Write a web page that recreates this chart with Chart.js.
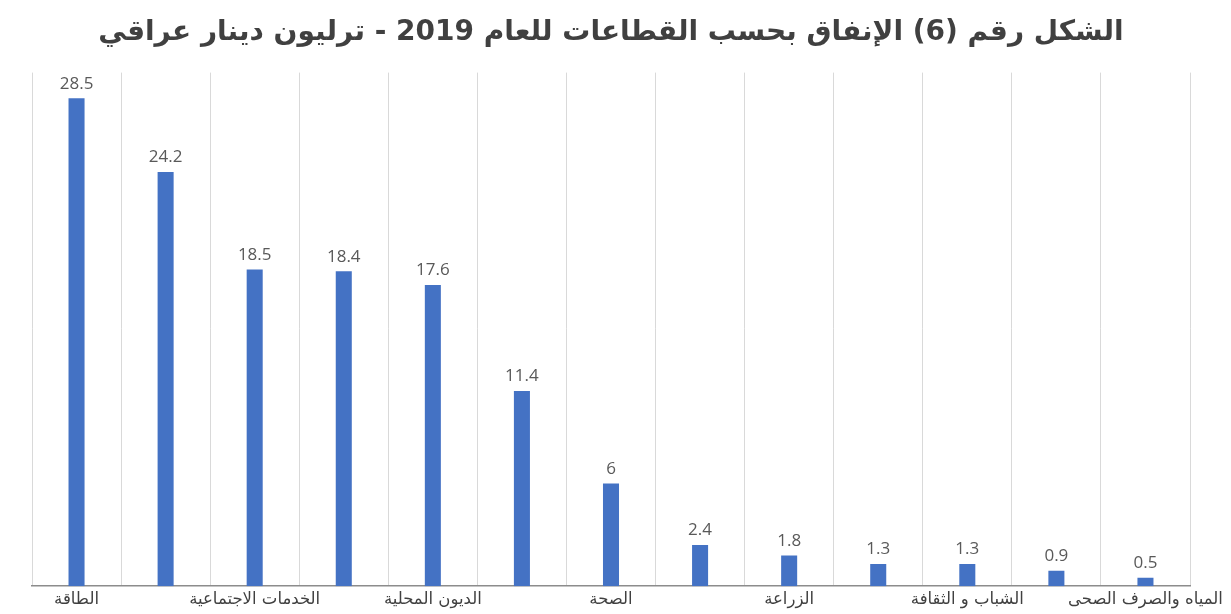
<!DOCTYPE html>
<html>
<head>
<meta charset="utf-8">
<script src="https://cdn.jsdelivr.net/npm/chart.js@4/dist/chart.umd.min.js"></script>
<style>
  html, body { margin: 0; padding: 0; background: #ffffff; }
  #wrap { width: 1231px; height: 614px; }
</style>
</head>
<body>
<div id="wrap"><canvas id="c" width="1231" height="614"></canvas></div>
<script>
const titleText = "الشكل رقم (6) الإنفاق بحسب القطاعات للعام 2019 - ترليون دينار عراقي";
// Only every other category name is shown in the reference; hidden ones are unknown.
const categories = [
  "الطاقة", "", "الخدمات الاجتماعية", "", "الديون المحلية", "", "الصحة",
  "", "الزراعة", "", "الشباب و الثقافة", "", "المياه والصرف الصحى"
];
const values = [28.5, 24.2, 18.5, 18.4, 17.6, 11.4, 6, 2.4, 1.8, 1.3, 1.3, 0.9, 0.5];
const yMin = 0;
const yMax = 30;

const valueLabels = {
  id: 'valueLabels',
  afterDatasetsDraw(chart) {
    const ctx = chart.ctx;
    const meta = chart.getDatasetMeta(0);
    ctx.save();
    ctx.font = '17px "Open Sans", "DejaVu Sans", sans-serif';
    ctx.fillStyle = '#595959';
    ctx.textAlign = 'center';
    ctx.textBaseline = 'bottom';
    meta.data.forEach((bar, i) => {
      ctx.fillText(String(values[i]), bar.x, bar.y - 6);
    });
    ctx.restore();
  }
};

new Chart(document.getElementById('c'), {
  type: 'bar',
  data: {
    labels: categories,
    datasets: [{
      data: values,
      backgroundColor: '#4472C4',
      borderWidth: 0,
      barPercentage: 0.18,
      categoryPercentage: 1.0
    }]
  },
  options: {
    responsive: false,
    animation: false,
    layout: { padding: { left: 32, right: 41, top: 4, bottom: 0 } },
    plugins: {
      legend: { display: false },
      tooltip: { enabled: false },
      title: {
        display: true,
        text: titleText,
        color: '#404040',
        font: { family: '"DejaVu Sans", sans-serif', size: 28, weight: 'bold' },
        padding: { top: 12, bottom: 23 }
      }
    },
    scales: {
      x: {
        offset: true,
        grid: {
          display: true,
          offset: true,
          color: '#d9d9d9',
          lineWidth: 1,
          drawTicks: false
        },
        border: { display: true, color: '#8c8c8c', width: 1.5 },
        ticks: {
          autoSkip: false,
          maxRotation: 0,
          minRotation: 0,
          padding: 4,
          color: '#404040',
          font: { family: '"DejaVu Sans", sans-serif', size: 16.5 },
          callback: (v, i) => categories[i]
        }
      },
      y: {
        display: false,
        min: yMin,
        max: yMax
      }
    }
  },
  plugins: [valueLabels]
});
</script>
</body>
</html>
